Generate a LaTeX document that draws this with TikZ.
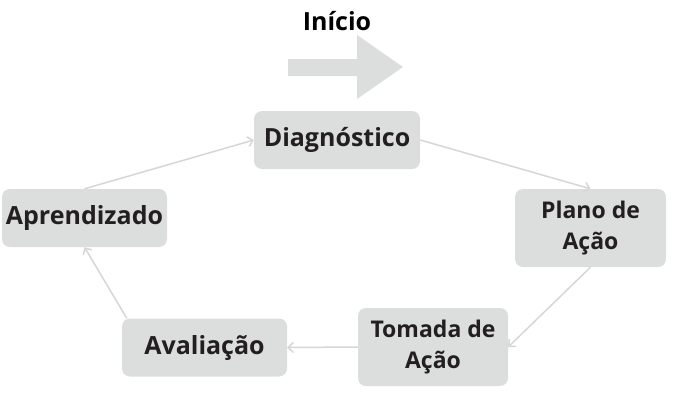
\documentclass[tikz,border=0pt]{standalone}
\usepackage{fontspec}
\setmainfont{Open Sans}
\usetikzlibrary{arrows.meta,positioning}
\definecolor{BoxGray}{RGB}{220,221,221}
\definecolor{LineGray}{RGB}{214,214,214}
\definecolor{InkDark}{RGB}{35,31,32}
\tikzset{
  stage/.style={fill=BoxGray,rounded corners=8pt,text=InkDark,align=center,
    inner sep=0pt,font=\bfseries\fontsize{25}{31}\selectfont},
  wide/.style={stage,minimum width=166pt,minimum height=58pt},
  narrow/.style={stage,minimum width=151pt,minimum height=78pt,
    font=\bfseries\fontsize{23}{31}\selectfont},
  flow/.style={-{Straight Barb[length=5pt,width=10pt]},line width=1.5pt,LineGray}
}

\begin{document}
\begin{tikzpicture}[x=1pt,y=-1pt]
  \useasboundingbox (0,0) rectangle (676,407);
  \node[font=\bfseries\fontsize{25}{30}\selectfont,text=black] (inicio) at (337,21) {Início};
  \fill[BoxGray] (288,59) -- (357,59) -- (357,35) -- (403,67) -- (357,99)
    -- (357,76) -- (288,76) -- cycle;
  \node[wide] (diag) at (337,140) {Diagnóstico};
  \node[narrow] (plano) at (590.5,228) {Plano de\\Ação};
  \node[narrow,minimum width=150pt] (tomada) at (433,347) {Tomada de\\Ação};
  \node[wide,minimum width=165pt] (aval) at (204.5,347.5) {Avaliação};
  \node[wide,minimum width=165pt] (aprend) at (84.5,218) {Aprendizado};
  \draw[flow] (aprend.north) -- (diag.west);
  \draw[flow] (diag.east) -- (plano.north);
  \draw[flow] (plano.south) -- (tomada.east);
  \draw[flow] (tomada.west) -- (aval.east);
  \draw[flow] ([xshift=5pt]aval.north west) -- (aprend.south);
\end{tikzpicture}
\end{document}
